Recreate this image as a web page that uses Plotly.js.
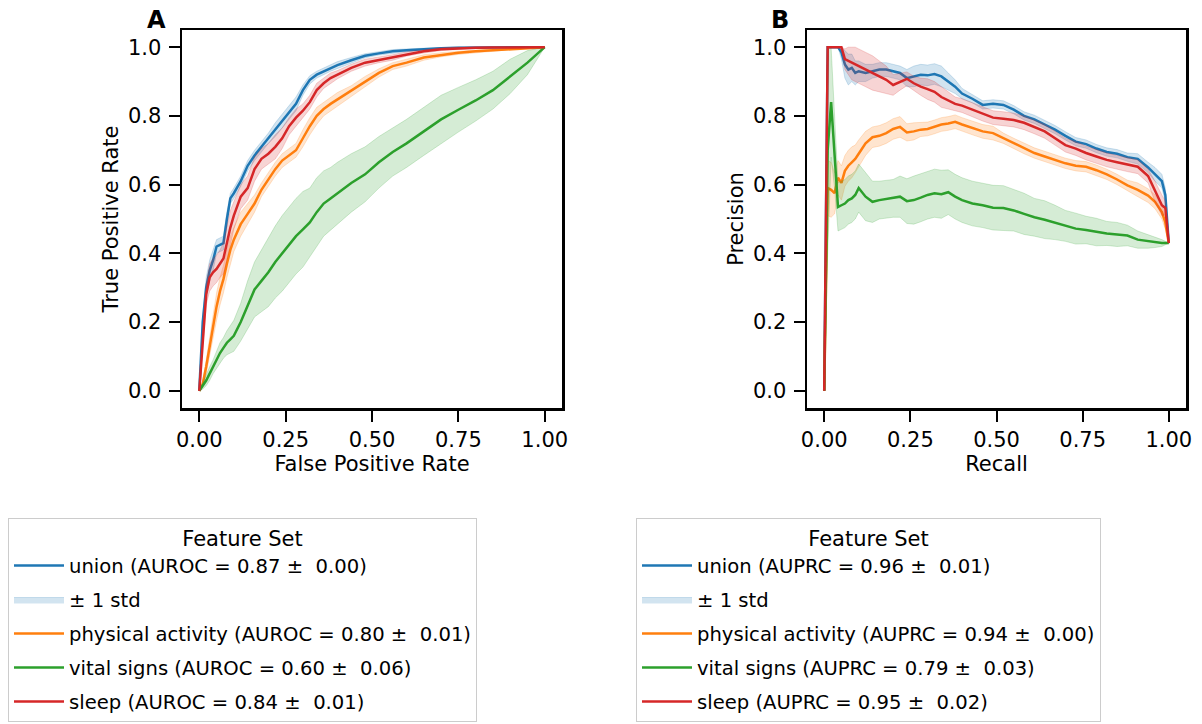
<!DOCTYPE html>
<html>
<head>
<meta charset="utf-8">
<script src="https://cdn.plot.ly/plotly-3.0.1.min.js"></script>
<style>html,body{margin:0;padding:0;background:#fff;}</style>
</head>
<body>
<div id="chart" style="width:1202px;height:724px;"></div>
<script>
// ---------- ROC data (panel A) ----------
const fpr = [0,0.01,0.02,0.03,0.04,0.05,0.06,0.07,0.08,0.09,0.10,0.12,0.14,0.16,0.18,0.20,0.22,0.24,0.26,0.28,0.30,0.32,0.34,0.36,0.38,0.40,0.44,0.48,0.52,0.56,0.60,0.65,0.70,0.75,0.80,0.85,0.90,0.95,1.0];
const tprUnion = [0,0.2,0.30,0.35,0.38,0.42,0.425,0.43,0.50,0.56,0.575,0.61,0.655,0.685,0.71,0.735,0.76,0.785,0.81,0.835,0.875,0.905,0.92,0.93,0.94,0.948,0.962,0.975,0.982,0.988,0.991,0.995,0.997,0.998,0.999,1,1,1,1];
const tprUnionStd = [0,0.02,0.03,0.03,0.03,0.02,0.02,0.02,0.02,0.015,0.015,0.015,0.015,0.015,0.015,0.015,0.02,0.02,0.02,0.02,0.015,0.012,0.01,0.01,0.01,0.01,0.008,0.006,0.005,0.005,0.004,0.003,0.002,0.002,0.001,0,0,0,0];
const tprActivity = [0,0.02,0.07,0.13,0.19,0.245,0.29,0.325,0.37,0.41,0.44,0.485,0.515,0.545,0.585,0.615,0.645,0.67,0.685,0.70,0.735,0.77,0.80,0.82,0.835,0.848,0.873,0.90,0.925,0.945,0.955,0.97,0.978,0.984,0.988,0.991,0.995,0.998,1];
const tprActivityStd = [0,0.01,0.02,0.03,0.04,0.04,0.04,0.04,0.04,0.04,0.035,0.035,0.03,0.025,0.02,0.02,0.02,0.02,0.02,0.02,0.025,0.025,0.025,0.02,0.02,0.02,0.015,0.015,0.012,0.01,0.01,0.008,0.006,0.005,0.004,0.003,0.002,0.001,0];
const tprVital = [0,0.015,0.03,0.05,0.07,0.09,0.11,0.125,0.14,0.15,0.16,0.2,0.25,0.295,0.32,0.345,0.375,0.40,0.425,0.45,0.47,0.49,0.52,0.545,0.56,0.575,0.605,0.63,0.665,0.695,0.72,0.755,0.79,0.818,0.845,0.875,0.915,0.955,1];
const tprVitalStd = [0,0.01,0.015,0.02,0.02,0.025,0.03,0.03,0.035,0.04,0.045,0.055,0.07,0.08,0.09,0.1,0.105,0.11,0.11,0.11,0.11,0.1,0.1,0.095,0.09,0.09,0.085,0.08,0.075,0.07,0.07,0.07,0.07,0.065,0.06,0.055,0.05,0.035,0];
const tprSleep = [0,0.15,0.28,0.33,0.345,0.355,0.37,0.385,0.43,0.475,0.51,0.565,0.59,0.645,0.675,0.69,0.71,0.735,0.77,0.795,0.815,0.84,0.875,0.895,0.91,0.92,0.94,0.955,0.963,0.97,0.98,0.988,0.994,0.997,0.998,0.999,1,1,1];
const tprSleepStd = [0,0.02,0.03,0.04,0.04,0.04,0.04,0.045,0.05,0.05,0.04,0.035,0.035,0.035,0.03,0.03,0.035,0.03,0.025,0.025,0.02,0.02,0.02,0.015,0.015,0.012,0.01,0.01,0.008,0.008,0.006,0.005,0.004,0.003,0.002,0.001,0,0,0];

// ---------- PR data (panel B) ----------
const recall = [0,0.01,0.02,0.03,0.04,0.05,0.06,0.07,0.08,0.09,0.10,0.12,0.14,0.16,0.18,0.20,0.22,0.24,0.26,0.28,0.30,0.32,0.34,0.36,0.38,0.40,0.43,0.46,0.49,0.52,0.55,0.58,0.61,0.64,0.67,0.70,0.73,0.76,0.79,0.82,0.85,0.88,0.91,0.94,0.96,0.98,0.99,1.0];
const precUnion = [0,1,1,1,1,0.985,0.95,0.935,0.94,0.925,0.93,0.925,0.93,0.935,0.935,0.93,0.925,0.91,0.915,0.92,0.918,0.922,0.915,0.9,0.885,0.865,0.85,0.832,0.835,0.832,0.818,0.80,0.79,0.775,0.76,0.742,0.725,0.718,0.705,0.695,0.69,0.68,0.675,0.65,0.63,0.61,0.57,0.43];
const precUnionStd = [0,0,0,0,0,0.02,0.04,0.045,0.04,0.035,0.03,0.025,0.02,0.02,0.02,0.02,0.02,0.025,0.03,0.03,0.03,0.03,0.03,0.025,0.02,0.015,0.012,0.012,0.012,0.012,0.012,0.012,0.012,0.012,0.012,0.012,0.012,0.012,0.012,0.012,0.012,0.012,0.015,0.015,0.02,0.02,0.02,0];
const precActivity = [0,0.59,0.585,0.575,0.62,0.605,0.64,0.655,0.665,0.675,0.69,0.72,0.738,0.742,0.75,0.762,0.768,0.752,0.755,0.76,0.762,0.768,0.775,0.778,0.783,0.775,0.765,0.755,0.75,0.735,0.72,0.705,0.692,0.682,0.672,0.662,0.655,0.652,0.642,0.63,0.615,0.598,0.585,0.568,0.55,0.52,0.49,0.43];
const precActivityStd = [0,0.08,0.08,0.06,0.05,0.05,0.045,0.045,0.045,0.04,0.04,0.035,0.03,0.03,0.03,0.03,0.03,0.025,0.025,0.02,0.02,0.02,0.02,0.02,0.02,0.02,0.02,0.02,0.02,0.015,0.015,0.015,0.015,0.015,0.015,0.015,0.015,0.015,0.015,0.015,0.015,0.015,0.02,0.02,0.02,0.02,0.02,0];
const precVital = [0,0.7,0.84,0.69,0.535,0.54,0.545,0.555,0.56,0.57,0.59,0.565,0.55,0.555,0.558,0.56,0.565,0.552,0.555,0.562,0.57,0.575,0.572,0.578,0.565,0.555,0.545,0.54,0.533,0.532,0.525,0.515,0.505,0.498,0.49,0.48,0.472,0.468,0.462,0.458,0.455,0.452,0.44,0.435,0.432,0.43,0.43,0.43];
const precVitalStd = [0,0.3,0.16,0.1,0.07,0.07,0.07,0.07,0.07,0.07,0.07,0.07,0.06,0.055,0.055,0.055,0.06,0.065,0.07,0.07,0.07,0.07,0.07,0.065,0.065,0.065,0.065,0.065,0.065,0.065,0.06,0.06,0.055,0.055,0.05,0.045,0.045,0.04,0.04,0.035,0.035,0.03,0.025,0.02,0.015,0.01,0.005,0];
const precSleep = [0,1,1,1,1,1,0.965,0.96,0.955,0.95,0.945,0.935,0.925,0.915,0.905,0.89,0.9,0.908,0.895,0.885,0.878,0.87,0.855,0.845,0.835,0.83,0.818,0.805,0.795,0.792,0.788,0.78,0.768,0.755,0.735,0.715,0.705,0.692,0.682,0.672,0.665,0.658,0.652,0.625,0.58,0.54,0.532,0.43];
const precSleepStd = [0,0,0,0,0,0,0.03,0.04,0.05,0.05,0.05,0.05,0.05,0.045,0.04,0.03,0.025,0.02,0.02,0.025,0.03,0.03,0.03,0.025,0.02,0.02,0.02,0.02,0.02,0.02,0.02,0.02,0.02,0.02,0.02,0.02,0.02,0.02,0.02,0.02,0.02,0.02,0.02,0.02,0.03,0.03,0.02,0];

// ---------- labels ----------
const seriesNames = ['union', 'physical activity', 'vital signs', 'sleep'];
const aurocMean = ['0.87', '0.80', '0.60', '0.84'];
const aurocStd = ['0.00', '0.01', '0.06', '0.01'];
const auprcMean = ['0.96', '0.94', '0.79', '0.95'];
const auprcStd = ['0.01', '0.00', '0.03', '0.02'];
const stdLabel = '± 1 std';
const legendTitle = 'Feature Set';

const colors = ['#1f77b4', '#ff7f0e', '#2ca02c', '#d62728'];
const fills = ['rgba(31,119,180,0.2)', 'rgba(255,127,14,0.2)', 'rgba(44,160,44,0.2)', 'rgba(214,39,40,0.2)'];
const FONT = 'DejaVu Sans, Liberation Sans, sans-serif';

function band(x, m, s) {
  const up = m.map((v, i) => Math.min(1, v + s[i]));
  const lo = m.map((v, i) => Math.max(0, v - s[i]));
  return { x: x.concat(x.slice().reverse()), y: up.concat(lo.slice().reverse()) };
}

const traces = [];
function addPanel(x, means, stds, metric, mVals, sVals, xa, ya, leg, gp) {
  for (let k = 0; k < 4; k++) {
    traces.push({
      x: x, y: means[k], type: 'scatter', mode: 'lines',
      name: seriesNames[k] + ' (' + metric + ' = ' + mVals[k] + ' ±\u00a0 ' + sVals[k] + ')',
      line: { color: colors[k], width: 2.5 },
      xaxis: xa, yaxis: ya, legend: leg, legendgroup: gp + 'l' + k, hoverinfo: 'skip'
    });
    const b = band(x, means[k], stds[k]);
    traces.push({
      x: b.x, y: b.y, type: 'scatter', mode: 'lines', fill: 'toself',
      fillcolor: fills[k], line: { color: fills[k], width: 1 },
      name: stdLabel, showlegend: k === 0,
      xaxis: xa, yaxis: ya, legend: leg, legendgroup: gp + 'f' + k, hoverinfo: 'skip'
    });
  }
}
addPanel(fpr, [tprUnion, tprActivity, tprVital, tprSleep], [tprUnionStd, tprActivityStd, tprVitalStd, tprSleepStd],
  'AUROC', aurocMean, aurocStd, 'x', 'y', 'legend', 'a');
addPanel(recall, [precUnion, precActivity, precVital, precSleep], [precUnionStd, precActivityStd, precVitalStd, precSleepStd],
  'AUPRC', auprcMean, auprcStd, 'x2', 'y2', 'legend2', 'b');

const W = 1202, H = 724;
function axisBase() {
  return {
    showline: true, mirror: true, linecolor: 'black', linewidth: 2.5,
    showgrid: false, zeroline: false, ticks: 'outside', ticklen: 11, tickwidth: 2,
    tickcolor: 'black', tickfont: { family: FONT, size: 21, color: 'black' },
    range: [-0.05, 1.05], fixedrange: true
  };
}
const titleFont = { family: FONT, size: 21, color: 'black' };
const xA = Object.assign(axisBase(), { domain: [182 / W, 562 / W], anchor: 'y', tickvals: [0, 0.25, 0.5, 0.75, 1], tickformat: '.2f',
  title: { text: 'False Positive Rate', font: titleFont, standoff: 2 } });
const yA = Object.assign(axisBase(), { domain: [1 - 408 / H, 1 - 30 / H], anchor: 'x', tickvals: [0, 0.2, 0.4, 0.6, 0.8, 1], tickformat: '.1f',
  ticklabelstandoff: 3, title: { text: 'True Positive Rate', font: titleFont, standoff: 4 } });
const xB = Object.assign(axisBase(), { domain: [807 / W, 1186 / W], anchor: 'y2', tickvals: [0, 0.25, 0.5, 0.75, 1], tickformat: '.2f',
  title: { text: 'Recall', font: titleFont, standoff: 2 } });
const yB = Object.assign(axisBase(), { domain: [1 - 408 / H, 1 - 30 / H], anchor: 'x2', tickvals: [0, 0.2, 0.4, 0.6, 0.8, 1], tickformat: '.1f',
  ticklabelstandoff: 3, title: { text: 'Precision', font: titleFont, standoff: 4 } });

function legendBase(xpx) {
  return {
    x: xpx / W, y: 1 - 518 / H, xanchor: 'left', yanchor: 'top', xref: 'paper', yref: 'paper',
    bgcolor: 'white', bordercolor: '#cccccc', borderwidth: 1,
    font: { family: FONT, size: 19.6, color: 'black' },
    title: { text: legendTitle, side: 'top center', font: { family: FONT, size: 21, color: 'black' } },
    traceorder: 'grouped', tracegroupgap: 5.5, itemwidth: 50
  };
}

const layout = {
  width: W, height: H, margin: { l: 0, r: 0, t: 0, b: 0 },
  paper_bgcolor: 'white', plot_bgcolor: 'white',
  font: { family: FONT, color: 'black' },
  xaxis: xA, yaxis: yA, xaxis2: xB, yaxis2: yB,
  legend: legendBase(8), legend2: legendBase(636),
  annotations: [
    { text: '<b>A</b>', xref: 'paper', yref: 'paper', x: 156 / W, y: 1 - 20.5 / H, xanchor: 'center', yanchor: 'middle', showarrow: false, font: { family: FONT, size: 24, color: 'black' } },
    { text: '<b>B</b>', xref: 'paper', yref: 'paper', x: 780 / W, y: 1 - 20.5 / H, xanchor: 'center', yanchor: 'middle', showarrow: false, font: { family: FONT, size: 24, color: 'black' } }
  ]
};

Plotly.newPlot('chart', traces, layout, { staticPlot: true, displayModeBar: false });
</script>
</body>
</html>
